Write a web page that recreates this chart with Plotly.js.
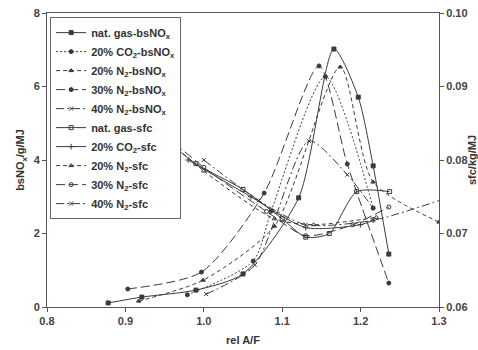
<!DOCTYPE html>
<html>
<head>
<meta charset="utf-8">
<script src="https://cdn.plot.ly/plotly-3.0.1.min.js"></script>
<style>html,body{margin:0;padding:0;background:#fff;}#chart{width:478px;height:350px;}</style>
</head>
<body>
<div id="chart"></div>
<script>
// bsNOx series (left axis, g/MJ)
const natGasNOxX = [0.878, 0.921, 0.990, 1.050, 1.121, 1.166, 1.197, 1.216, 1.236];
const natGasNOxY = [0.11, 0.27, 0.46, 0.90, 2.97, 7.02, 5.71, 3.84, 1.44];
const co2NOxX = [0.979, 1.063, 1.086, 1.155, 1.216];
const co2NOxY = [0.33, 1.25, 2.61, 6.27, 2.69];
const n20NOxX = [0.917, 0.999, 1.090, 1.174, 1.216, 1.300];
const n20NOxY = [0.16, 0.73, 2.20, 6.53, 3.40, 2.31];
const n30NOxX = [0.903, 0.997, 1.077, 1.147, 1.183, 1.236];
const n30NOxY = [0.49, 0.95, 3.10, 6.56, 3.89, 0.65];
const n40NOxX = [1.003, 1.065, 1.134, 1.183, 1.216];
const n40NOxY = [0.35, 1.14, 4.52, 3.60, 2.69];

// sfc series (right axis)
const natGasSfcX = [0.920, 0.990, 1.050, 1.100, 1.130, 1.160, 1.195, 1.237];
const natGasSfcY = [0.0855, 0.0795, 0.0760, 0.0720, 0.0695, 0.0700, 0.0757, 0.0757];
const co2SfcX = [0.980, 1.060, 1.130, 1.200, 1.216];
const co2SfcY = [0.0800, 0.0750, 0.0708, 0.0712, 0.0718];
const n20SfcX = [0.920, 1.000, 1.090, 1.140, 1.220];
const n20SfcY = [0.0860, 0.0785, 0.0720, 0.0712, 0.0722];
const n30SfcX = [0.900, 1.000, 1.080, 1.130, 1.190, 1.236];
const n30SfcY = [0.0880, 0.0790, 0.0730, 0.0697, 0.0712, 0.0736];
const n40SfcX = [1.000, 1.070, 1.130, 1.216, 1.320];
const n40SfcY = [0.0800, 0.0745, 0.0712, 0.0718, 0.0752];

const names = [
  'nat. gas-bsNO<sub>x</sub>',
  '20% CO<sub>2</sub>-bsNO<sub>x</sub>',
  '20% N<sub>2</sub>-bsNO<sub>x</sub>',
  '30% N<sub>2</sub>-bsNO<sub>x</sub>',
  '40% N<sub>2</sub>-bsNO<sub>x</sub>',
  'nat. gas-sfc',
  '20% CO<sub>2</sub>-sfc',
  '20% N<sub>2</sub>-sfc',
  '30% N<sub>2</sub>-sfc',
  '40% N<sub>2</sub>-sfc'
];

const C = '#3a3a3a';
function tr(x, y, name, dash, sym, axis) {
  return {
    x: x, y: y, name: name, type: 'scatter', mode: 'lines+markers',
    yaxis: axis,
    line: {color: C, width: 1, dash: dash, shape: 'spline', smoothing: 0.7},
    marker: {symbol: sym, size: 4, color: C, line: {color: C, width: 1}},
    cliponaxis: true
  };
}

const data = [
  tr(natGasNOxX, natGasNOxY, names[0], 'solid', 'square', 'y'),
  tr(co2NOxX, co2NOxY, names[1], '2px,2px', 'circle', 'y'),
  tr(n20NOxX, n20NOxY, names[2], '4px,3px', 'triangle-up', 'y'),
  tr(n30NOxX, n30NOxY, names[3], '9px,4px', 'circle', 'y'),
  tr(n40NOxX, n40NOxY, names[4], '8px,3px,2px,3px', 'x-thin-open', 'y'),
  tr(natGasSfcX, natGasSfcY, names[5], 'solid', 'square-open', 'y2'),
  tr(co2SfcX, co2SfcY, names[6], 'solid', 'cross-thin-open', 'y2'),
  tr(n20SfcX, n20SfcY, names[7], '4px,3px', 'triangle-up-open', 'y2'),
  tr(n30SfcX, n30SfcY, names[8], '9px,4px', 'circle-open', 'y2'),
  tr(n40SfcX, n40SfcY, names[9], '8px,3px,2px,3px', 'x-thin-open', 'y2')
];

const FF = 'Liberation Sans, Arial, sans-serif';
const tickFont = {family: FF, size: 11, color: '#444', weight: 'bold'};

const layout = {
  width: 478, height: 350,
  margin: {l: 47, r: 39, t: 13, b: 43},
  paper_bgcolor: '#fff', plot_bgcolor: '#fff',
  showlegend: true,
  legend: {
    x: 0.008, y: 0.986, xanchor: 'left', yanchor: 'top',
    bgcolor: '#fff', bordercolor: '#666', borderwidth: 1,
    font: {family: FF, size: 11, color: '#333', weight: 'bold'},
    tracegroupgap: 0
  },
  xaxis: {
    range: [0.8, 1.3], dtick: 0.1, tick0: 0.8, tickformat: '.1f',
    showgrid: false, zeroline: false,
    showline: true, linecolor: '#555', linewidth: 1, mirror: true,
    ticks: 'outside', ticklen: 4, tickcolor: '#555',
    tickfont: tickFont,
    title: {text: 'rel A/F', font: {family: FF, size: 11, color: '#333', weight: 'bold'}, standoff: 10}
  },
  yaxis: {
    range: [0, 8], dtick: 2, tick0: 0,
    showgrid: false, zeroline: false,
    showline: true, linecolor: '#555', linewidth: 1,
    ticks: 'outside', ticklen: 4, tickcolor: '#555',
    tickfont: tickFont,
    title: {text: 'bsNO<sub>x</sub>/g/MJ', font: {family: FF, size: 11, color: '#333', weight: 'bold'}, standoff: 6}
  },
  yaxis2: {
    overlaying: 'y', side: 'right',
    range: [0.06, 0.10], dtick: 0.01, tick0: 0.06, tickformat: '.2f',
    showgrid: false, zeroline: false,
    showline: true, linecolor: '#555', linewidth: 1,
    ticks: 'outside', ticklen: 4, tickcolor: '#555',
    tickfont: tickFont,
    title: {text: 'sfc/kg/MJ', font: {family: FF, size: 11, color: '#333', weight: 'bold'}, standoff: 14}
  }
};

Plotly.newPlot('chart', data, layout, {displayModeBar: false, staticPlot: true});
</script>
</body>
</html>
